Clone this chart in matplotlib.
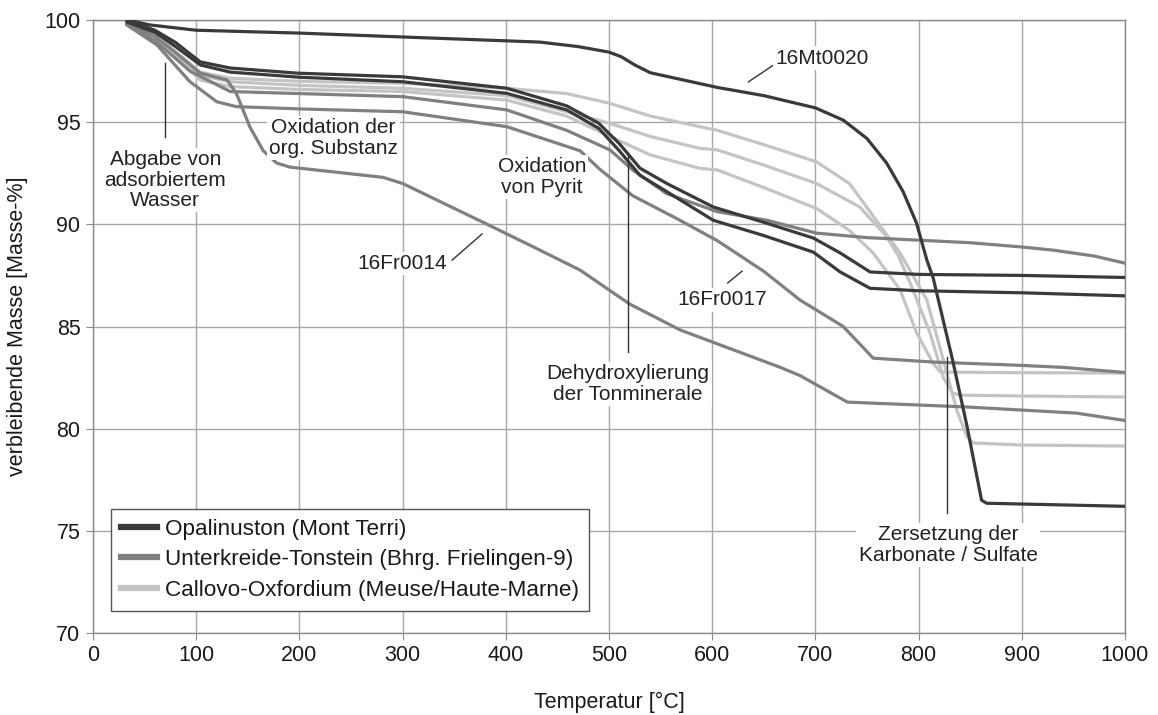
import matplotlib
matplotlib.use("Agg")
import matplotlib.pyplot as plt

plt.rcParams['font.family'] = ['Liberation Sans', 'DejaVu Sans']

# --- data ---
# Opalinuston (Mont Terri)
temp_mt0020 = [33, 55, 100, 200, 300, 433, 470, 500, 512, 525, 540, 605, 650, 700, 727, 750, 769, 785, 798, 808, 814, 833, 847, 861, 866, 1000]
mass_mt0020 = [100.0, 99.76, 99.5, 99.36, 99.17, 98.92, 98.7, 98.43, 98.2, 97.8, 97.42, 96.7, 96.3, 95.7, 95.1, 94.2, 93.0, 91.6, 90.06, 88.25, 87.4, 83.35, 80.1, 76.5, 76.35, 76.2]
temp_opa2 = [33, 60, 80, 104, 133, 198, 300, 401, 459, 490, 510, 530, 556, 601, 650, 698, 724, 753, 800, 900, 1000]
mass_opa2 = [100.0, 99.5, 98.9, 97.95, 97.65, 97.4, 97.22, 96.66, 95.8, 94.95, 93.95, 92.75, 92.0, 90.85, 90.1, 89.33, 88.6, 87.67, 87.55, 87.5, 87.4]
temp_opa3 = [33, 60, 80, 104, 133, 200, 300, 401, 459, 490, 510, 530, 556, 601, 650, 698, 724, 753, 800, 900, 1000]
mass_opa3 = [99.9, 99.4, 98.7, 97.8, 97.45, 97.2, 96.98, 96.41, 95.6, 94.7, 93.6, 92.4, 91.6, 90.2, 89.45, 88.64, 87.67, 86.87, 86.75, 86.65, 86.5]

# Unterkreide-Tonstein (Bhrg. Frielingen-9)
temp_uk1 = [33, 60, 94, 133, 200, 300, 401, 459, 501, 523, 556, 605, 653, 701, 750, 798, 850, 898, 930, 970, 1000]
mass_uk1 = [99.8, 99.0, 97.5, 96.5, 96.4, 96.25, 95.6, 94.6, 93.64, 92.66, 91.5, 90.62, 90.2, 89.57, 89.35, 89.23, 89.1, 88.9, 88.74, 88.45, 88.1]
temp_fr0017 = [33, 62, 94, 120, 139, 200, 300, 401, 472, 491, 523, 565, 605, 650, 685, 727, 756, 814, 898, 940, 1000]
mass_fr0017 = [99.75, 98.78, 96.98, 96.0, 95.76, 95.65, 95.51, 94.78, 93.6, 92.7, 91.4, 90.3, 89.2, 87.7, 86.3, 85.0, 83.45, 83.26, 83.1, 83.0, 82.75]
temp_fr0014 = [33, 60, 80, 104, 130, 139, 152, 165, 178, 191, 281, 300, 378, 433, 472, 520, 569, 666, 685, 731, 847, 953, 1000]
mass_fr0014 = [99.9, 99.2, 98.4, 97.4, 97.06, 96.4, 94.77, 93.6, 93.0, 92.8, 92.3, 92.0, 90.1, 88.74, 87.76, 86.1, 84.83, 83.0, 82.6, 81.3, 81.06, 80.76, 80.4]

# Callovo-Oxfordium (Meuse/Haute-Marne)
temp_co1 = [33, 60, 104, 133, 200, 300, 401, 459, 501, 540, 588, 605, 650, 701, 733, 759, 782, 808, 824, 837, 847, 853, 900, 1000]
mass_co1 = [99.9, 99.3, 97.45, 97.15, 97.0, 96.9, 96.66, 96.4, 95.92, 95.3, 94.78, 94.6, 93.9, 93.06, 92.0, 90.2, 88.6, 86.3, 83.35, 80.9, 79.6, 79.3, 79.2, 79.15]
temp_co2 = [33, 60, 104, 133, 200, 300, 401, 501, 540, 588, 605, 650, 701, 743, 769, 780, 792, 811, 824, 833, 840, 900, 1000]
mass_co2 = [99.9, 99.25, 97.3, 96.98, 96.8, 96.66, 96.3, 94.94, 94.3, 93.72, 93.64, 92.9, 92.0, 90.85, 89.4, 88.5, 87.1, 84.7, 82.5, 81.74, 81.64, 81.6, 81.55]
temp_co3 = [33, 60, 104, 133, 200, 300, 401, 459, 501, 540, 588, 605, 650, 701, 733, 756, 782, 798, 814, 821, 900, 1000]
mass_co3 = [99.85, 99.2, 97.06, 96.74, 96.6, 96.5, 96.08, 95.3, 94.3, 93.4, 92.74, 92.66, 91.8, 90.78, 89.7, 88.6, 86.8, 84.7, 83.2, 82.77, 82.74, 82.72]

group_labels = ["Opalinuston (Mont Terri)",
                "Unterkreide-Tonstein (Bhrg. Frielingen-9)",
                "Callovo-Oxfordium (Meuse/Haute-Marne)"]

dark = "#3a3a3a"
mid = "#808080"
light = "#c4c4c4"

fig = plt.figure(figsize=(11.58, 7.15), dpi=100)
ax = fig.add_axes([0.0803, 0.1147, 0.8912, 0.8573])

lw = 2.3
for t, m in [(temp_co1, mass_co1), (temp_co2, mass_co2), (temp_co3, mass_co3)]:
    ax.plot(t, m, color=light, lw=lw, zorder=3, solid_joinstyle='round')
for t, m in [(temp_uk1, mass_uk1), (temp_fr0017, mass_fr0017), (temp_fr0014, mass_fr0014)]:
    ax.plot(t, m, color=mid, lw=lw, zorder=4, solid_joinstyle='round')
for t, m in [(temp_opa2, mass_opa2), (temp_opa3, mass_opa3), (temp_mt0020, mass_mt0020)]:
    ax.plot(t, m, color=dark, lw=lw, zorder=5, solid_joinstyle='round')

ax.set_xlim(0, 1000)
ax.set_ylim(70, 100)
ax.set_xticks(range(0, 1001, 100))
ax.set_yticks(range(70, 101, 5))
ax.grid(True, color="#a8a8a8", lw=1)
ax.set_axisbelow(True)
for s in ax.spines.values():
    s.set_color("#8a8a8a")
    s.set_linewidth(1)
ax.tick_params(direction='out', length=5, color="#8a8a8a", labelsize=15.5,
               labelcolor="#1a1a1a", pad=4)
ax.set_xlabel("Temperatur [°C]", fontsize=15.5, color="#1a1a1a", labelpad=18)
ax.set_ylabel("verbleibende Masse [Masse-%]", fontsize=15.5, color="#1a1a1a", labelpad=12)

# annotations
box = dict(facecolor='white', edgecolor='none', pad=1.5)
tkw = dict(fontsize=15, color="#222222", ha='center', va='center',
           linespacing=1.1, bbox=box, zorder=6)
lkw = dict(color="#333333", lw=1, zorder=6)

ax.plot([70, 70], [94.27, 97.9], **lkw)
ax.text(70, 92.17, "Abgabe von\nadsorbiertem\nWasser", **tkw)
ax.text(232.6, 94.22, "Oxidation der\norg. Substanz", **tkw)
ax.text(435, 92.32, "Oxidation\nvon Pyrit", **tkw)
ax.plot([348, 377], [88.25, 89.53], **lkw)
ax.text(299.4, 88.1, "16Fr0014", **tkw)
ax.plot([615, 629], [87.13, 87.71], **lkw)
ax.text(609.5, 86.3, "16Fr0017", **tkw)
ax.plot([635, 661], [96.97, 97.85], **lkw)
ax.text(706, 98.14, "16Mt0020", **tkw)
ax.plot([518.4, 518.4], [83.75, 93.49], **lkw)
ax.text(518.4, 82.18, "Dehydroxylierung\nder Tonminerale", **tkw)
ax.plot([827.5, 827.5], [75.87, 83.5], **lkw)
ax.text(828.5, 74.3, "Zersetzung der\nKarbonate / Sulfate", **tkw)

# legend
handles = [plt.Line2D([], [], color=c, lw=4.5) for c in (dark, mid, light)]
leg = ax.legend(handles, group_labels, loc='lower left',
                bbox_to_anchor=(0.017, 0.036), borderaxespad=0,
                fontsize=16.2, handlelength=1.6, handletextpad=0.35,
                labelspacing=0.42, borderpad=0.45, fancybox=False,
                framealpha=1, edgecolor="#555555")
leg.get_frame().set_linewidth(1)
leg.set_zorder(7)
for txt in leg.get_texts():
    txt.set_color("#1a1a1a")

fig.savefig("out.png", dpi=100)
